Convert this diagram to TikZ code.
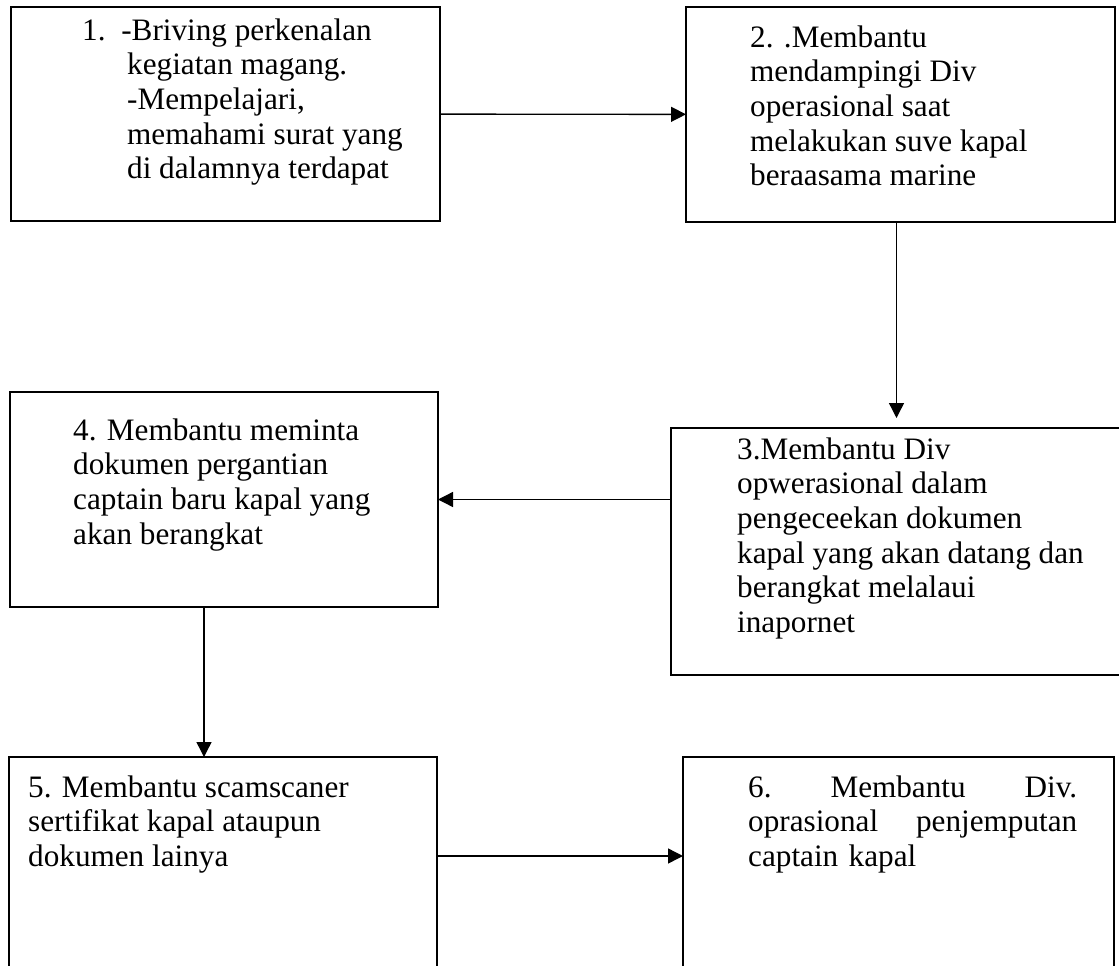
\documentclass[tikz,border=0pt]{standalone}
\usepackage{fontspec}
\setmainfont{Liberation Serif}
\usepackage{tikz}
\usetikzlibrary{positioning,arrows.meta,calc}

\begin{document}
\begin{tikzpicture}[
  x=1pt, y=1pt,
  actbox/.style={rectangle, draw=black, line width=1.2pt, anchor=north west,
                 inner sep=0pt, outer sep=0pt},
  acttxt/.style={inner sep=0pt, align=left,
                 font=\fontsize{31.2pt}{34.6pt}\selectfont},
  arr/.style={-{Triangle[length=15pt,width=15pt]}, line width=1.4pt, black}
]
  \path[use as bounding box, clip] (0,0) rectangle (1119,-966);

  % boxes
  \node[actbox, minimum width=429pt, minimum height=214pt] (b1) at (11,-7) {};
  \node[actbox, minimum width=429pt, minimum height=215pt] (b2) at (686,-7) {};
  \node[actbox, minimum width=460pt, minimum height=247pt] (b3) at (671,-428) {};
  \node[actbox, minimum width=428pt, minimum height=215pt] (b4) at (10,-392) {};
  \node[actbox, minimum width=428pt, minimum height=240pt] (b5) at (9,-757) {};
  \node[actbox, minimum width=431pt, minimum height=240pt] (b6) at (683,-757) {};

  % texts
  \node[acttxt, below right=8.8pt and 71pt of b1.north west] (t1)
        {\strut 1.\hspace*{15.75pt}-Briving perkenalan\\
         \hspace*{45pt}kegiatan magang.\\
         \hspace*{45pt}-Mempelajari,\\
         \hspace*{45pt}memahami surat yang\\
         \hspace*{45pt}di dalamnya terdapat};
  \node[acttxt, below right=15.8pt and 64pt of b2.north west] (t2)
        {\strut 2. .Membantu\\ mendampingi Div\\ operasional saat\\
         melakukan suve kapal\\ beraasama marine};
  \node[acttxt, below right=6.8pt and 66pt of b3.north west] (t3)
        {\strut 3.Membantu Div\\ opwerasional dalam\\ pengeceekan dokumen\\
         kapal yang akan datang dan\\ berangkat melalaui\\ inapornet};
  \node[acttxt, below right=23.8pt and 63pt of b4.north west] (t4)
        {\strut 4. Membantu meminta\\ dokumen pergantian\\
         captain baru kapal yang\\ akan berangkat};
  \node[acttxt, below right=15.8pt and 19pt of b5.north west] (t5)
        {\strut 5. Membantu scamscaner\\ sertifikat kapal ataupun\\ dokumen lainya};
  \node[acttxt, text width=329pt, below right=15.8pt and 65pt of b6.north west] (t6)
        {\strut 6.\hfill Membantu\hfill Div.\\
         oprasional\hfill penjemputan\\ captain kapal};

  % arrows
  \draw[arr] (b1) -- (b2);
  \draw[arr] ($(b2.south)+(-4,0)$) -- ($(b2.south |- b3.north)+(-4,10)$);
  \draw[arr] (b3.west |- b4.east) -- (b4.east);
  \draw[arr] ($(b4.south)+(-20,0)$) -- ($(b4.south |- b5.north)+(-20,0)$);
  \draw[arr] ($(b5.north east)+(0,-99)$) -- ($(b6.north west)+(0,-99)$);
\end{tikzpicture}
\end{document}
